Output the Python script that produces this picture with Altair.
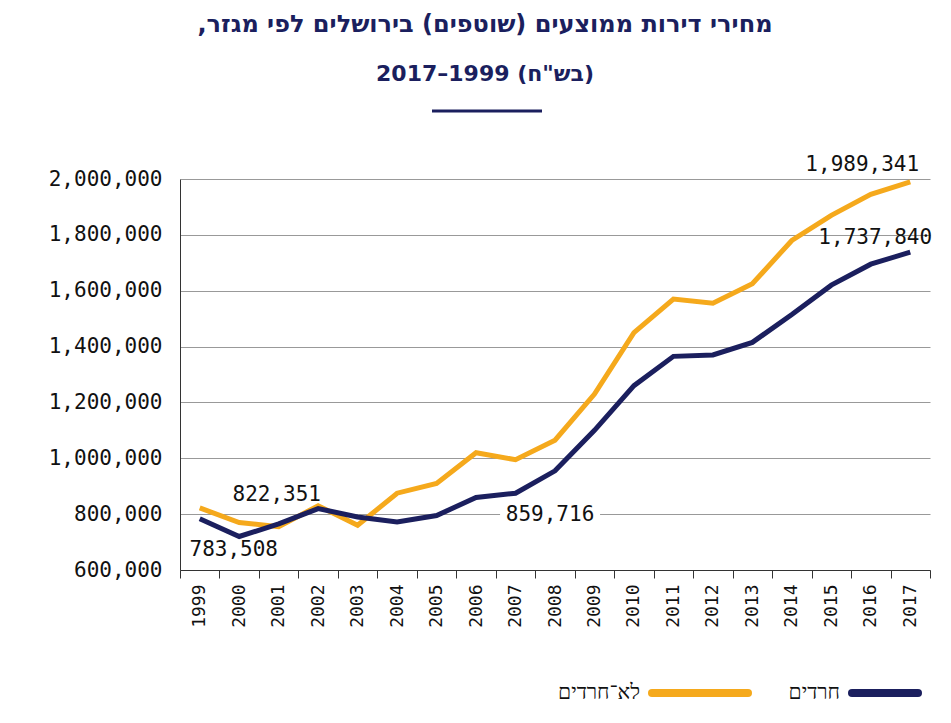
import altair as alt
import pandas as pd

YEARS = [str(y) for y in range(1999, 2018)]
NON_HAREDI = [822351, 770000, 755000, 830000, 760000, 875000, 910000, 1020000, 995000,
              1065000, 1230000, 1450000, 1570000, 1555000, 1625000, 1780000, 1870000,
              1945000, 1989341]
HAREDI = [783508, 720000, 765000, 820000, 790000, 772000, 795000, 859716, 875000,
          955000, 1100000, 1260000, 1365000, 1370000, 1415000, 1515000, 1620000,
          1695000, 1737840]
SERIES = ['לא־חרדים', 'חרדים']
COLORS = ['#F5A91C', '#1B1F5E']
FONT = 'DejaVu Sans Mono'
RLE, PDF = '\u202b', '\u202c'

df = pd.concat([
    pd.DataFrame({'year': YEARS, 'value': NON_HAREDI, 'group': SERIES[0]}),
    pd.DataFrame({'year': YEARS, 'value': HAREDI, 'group': SERIES[1]}),
])

x = alt.X('year:O', title=None, bandPosition=0.5,
          scale=alt.Scale(type='band', paddingInner=0, paddingOuter=0),
          axis=alt.Axis(labelAngle=-90, labelFont=FONT, labelFontSize=18, labelColor='#111',
                        tickBand='extent', tickColor='#333', domainColor='#333',
                        tickSize=8, labelPadding=6))
y = alt.Y('value:Q', title=None,
          scale=alt.Scale(domain=[600000, 2000000], nice=False),
          axis=alt.Axis(values=list(range(600000, 2000001, 200000)),
                        labelExpr="format(datum.value, ',')",
                        labelFont=FONT, labelFontSize=21, labelColor='#111', ticks=False,
                        labelPadding=18, grid=True, gridColor='#999', domainColor='#333'))

base = alt.Chart(df)
lines = base.mark_line(strokeWidth=5).encode(
    x=x, y=y,
    color=alt.Color('group:N', scale=alt.Scale(domain=SERIES, range=COLORS), legend=None))


def label(group, year, dx, dy, bg=False):
    d = df[(df.group == group) & (df.year == year)]
    c = alt.Chart(d)
    layers = []
    if bg:
        layers.append(c.mark_rect(color='white', width=100, height=22, xOffset=dx, yOffset=dy)
                      .encode(x=alt.X('year:O', bandPosition=0.5), y='value:Q'))
    layers.append(c.mark_text(font=FONT, fontSize=21, color='#111', dx=dx, dy=dy)
                  .encode(x=alt.X('year:O', bandPosition=0.5), y='value:Q',
                          text=alt.Text('value:Q', format=',')))
    return layers


labels = (label(SERIES[0], '2017', -48, -17) + label(SERIES[1], '2017', -35, -14)
          + label(SERIES[0], '1999', 77, -13) + label(SERIES[1], '1999', 34, 31)
          + label(SERIES[1], '2006', 74, 18, bg=True))

title1 = alt.Chart().mark_text(text=RLE + 'מחירי דירות ממוצעים (שוטפים) בירושלים לפי מגזר,' + PDF,
                               font='DejaVu Sans', fontSize=24, fontWeight='bold',
                               color='#1B1F5E').encode(x=alt.value(305), y=alt.value(-154))
title2 = alt.Chart().mark_text(text=RLE + '(בש"ח) 1999–2017' + PDF, font='DejaVu Sans',
                               fontSize=22, fontWeight='bold', color='#1B1F5E').encode(
    x=alt.value(305), y=alt.value(-105))
underline = alt.Chart().mark_rule(color='#1B1F5E', strokeWidth=3).encode(
    x=alt.value(252), x2=alt.value(362), y=alt.value(-68))

leg_navy = alt.Chart().mark_rule(color=COLORS[1], strokeWidth=8, strokeCap='round').encode(
    x=alt.value(672), x2=alt.value(738), y=alt.value(514))
leg_orange = alt.Chart().mark_rule(color=COLORS[0], strokeWidth=8, strokeCap='round').encode(
    x=alt.value(472), x2=alt.value(568), y=alt.value(514))
leg_t1 = alt.Chart().mark_text(text=SERIES[1], font=FONT, fontSize=21,
                               align='right', color='#111').encode(x=alt.value(660), y=alt.value(514))
leg_t0 = alt.Chart().mark_text(text=SERIES[0], font=FONT, fontSize=21,
                               align='right', color='#111').encode(x=alt.value(460), y=alt.value(514))

chart = alt.layer(lines, *labels, title1, title2, underline,
                  leg_navy, leg_orange, leg_t1, leg_t0).properties(
    width=750, height=391, autosize='none',
    padding={'left': 172, 'top': 171, 'right': 13, 'bottom': 145},
).configure_view(stroke=None)

chart.save("out.html", embed_options={"renderer": "svg", "actions": False})
